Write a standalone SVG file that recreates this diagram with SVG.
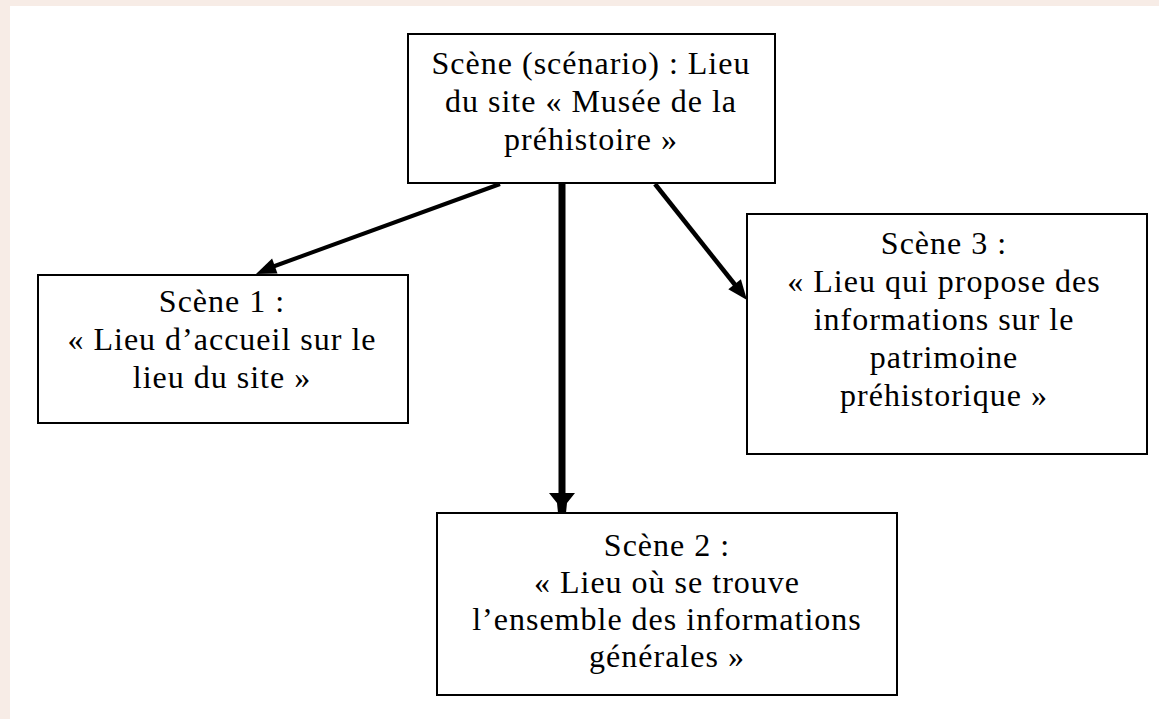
<svg xmlns="http://www.w3.org/2000/svg" width="1159" height="719" viewBox="0 0 1159 719">
<style>
.box{fill:#ffffff;stroke:#000000;stroke-width:2}
.t{font-family:"Liberation Serif","Times New Roman",serif;font-size:32px;letter-spacing:1px;fill:#000000;text-anchor:middle}
.ln{stroke:#000000;fill:none}
.hd{fill:#000000;stroke:none}
</style>
<rect x="0" y="0" width="1159" height="719" fill="#f7ece6"/>
<rect x="10" y="6" width="1149" height="713" fill="#ffffff"/>
<g id="connectors">
<line class="ln" x1="500" y1="184" x2="272" y2="267" stroke-width="4"/>
<polygon class="hd" points="256,274 272.1,258.6 277.5,273.6"/>
<line class="ln" x1="562" y1="184" x2="562" y2="495" stroke-width="7"/>
<polygon class="hd" points="549,493 575,493 567,503 566,513 558,513 557,503"/>
<line class="ln" x1="655" y1="184" x2="736" y2="286" stroke-width="4.5"/>
<polygon class="hd" points="747,300 728.3,289.3 740.9,279.3"/>
</g>
<g id="node-root">
<rect class="box" x="408" y="34" width="367" height="149"/>
<text class="t" x="591" y="74">Scène (scénario) : Lieu</text>
<text class="t" x="591" y="112">du site « Musée de la</text>
<text class="t" x="591" y="150">préhistoire »</text>
</g>
<g id="node-scene1">
<rect class="box" x="38" y="275" width="370" height="148"/>
<text class="t" x="222" y="312">Scène 1 :</text>
<text class="t" x="222" y="350">« Lieu d’accueil sur le</text>
<text class="t" x="222" y="388">lieu du site »</text>
</g>
<g id="node-scene3">
<rect class="box" x="747" y="214" width="400" height="240"/>
<text class="t" x="944" y="254">Scène 3 :</text>
<text class="t" x="944" y="292">« Lieu qui propose des</text>
<text class="t" x="944" y="330">informations sur le</text>
<text class="t" x="944" y="368">patrimoine</text>
<text class="t" x="944" y="406">préhistorique »</text>
</g>
<g id="node-scene2">
<rect class="box" x="437" y="513" width="460" height="182"/>
<text class="t" x="667" y="556">Scène 2 :</text>
<text class="t" x="667" y="593">« Lieu où se trouve</text>
<text class="t" x="667" y="630">l’ensemble des informations</text>
<text class="t" x="667" y="667">générales »</text>
</g>
</svg>
